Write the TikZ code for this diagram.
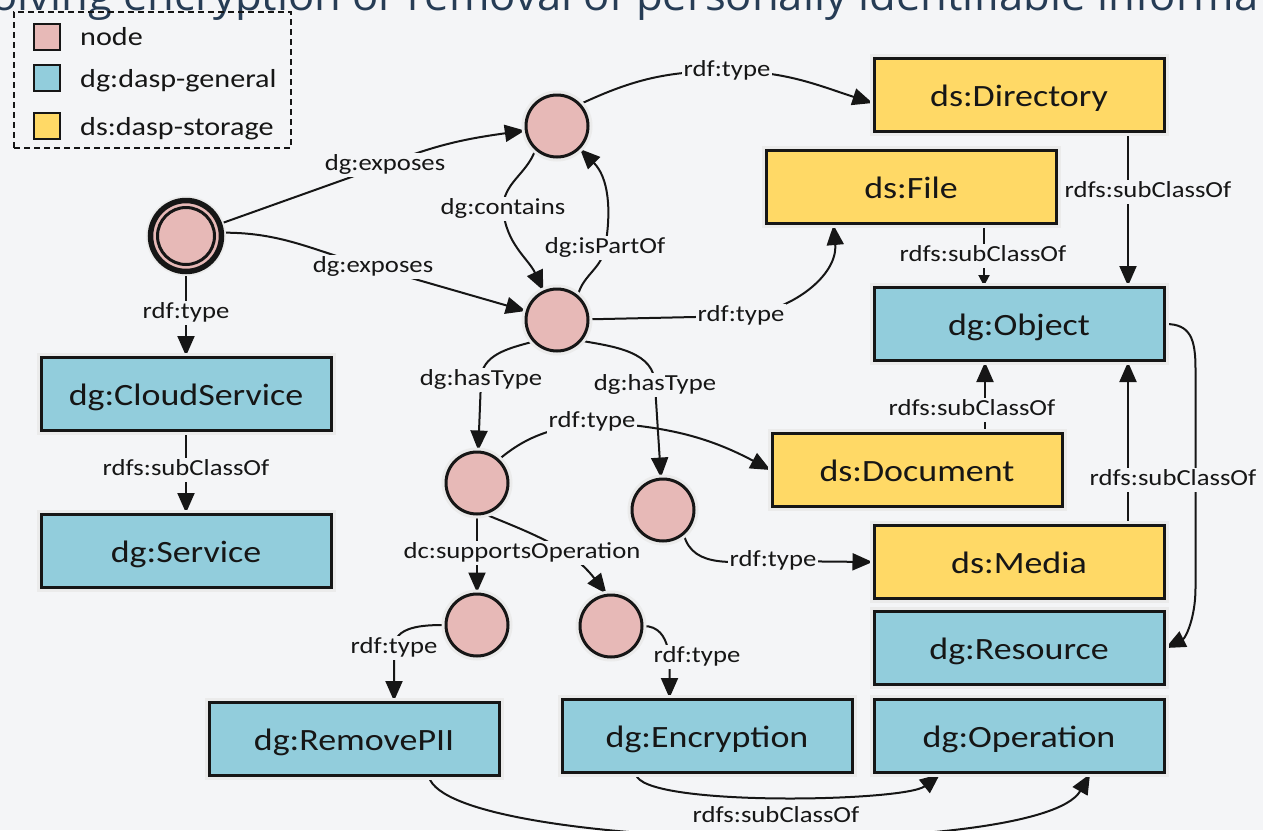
\documentclass[tikz,border=0pt]{standalone}
\usepackage{fontspec}
\setmainfont{Carlito}[FakeStretch=1.16]
\newfontfamily\titlefont{Open Sans}[FakeStretch=1.05]
\usetikzlibrary{arrows.meta}
\pgfdeclarelayer{backdrop}
\pgfdeclarelayer{wires}
\pgfsetlayers{backdrop,wires,main}
\definecolor{bg}{RGB}{244,245,247}
\definecolor{pinkfill}{RGB}{231,185,183}
\definecolor{genfill}{RGB}{146,205,220}
\definecolor{storefill}{RGB}{255,217,102}
\definecolor{titlecol}{RGB}{38,60,85}
\definecolor{ink}{RGB}{22,22,22}
\begin{document}
\begin{tikzpicture}[x=1pt,y=1pt,
  halo/.style={preaction={draw=black!8,line width=9pt}},
  classbox/.style={draw=ink, line width=3pt, minimum width=290pt, minimum height=73pt,
    inner sep=0pt, text height=22pt, text depth=0pt,
    font=\fontsize{31}{36}\selectfont, text=ink, halo},
  general/.style={classbox, fill=genfill},
  storage/.style={classbox, fill=storefill},
  blank/.style={circle, draw=ink, line width=3pt, fill=pinkfill, minimum size=62pt,
    inner sep=0pt, halo},
  lbl/.style={fill=bg, inner sep=1.5pt, text height=16pt, text depth=5pt,
    font=\fontsize{23}{26}\selectfont, text=ink},
  legsq/.style={draw=ink, line width=2.5pt, minimum size=26pt, inner sep=0pt},
  legtxt/.style={inner sep=0pt, font=\fontsize{26}{30}\selectfont, text=ink},
  wire/.style={draw=ink, line width=2pt},
  edge/.style={wire, -{Triangle[length=20pt,width=17pt]}},
  smalledge/.style={wire, -{Triangle[length=11pt,width=11pt]}},
]
\useasboundingbox (0,0) rectangle (1263,-830);

% backdrop and the clipped heading line
\begin{pgfonlayer}{backdrop}
  \fill[bg] (0,0) rectangle (1263,-830);
  \begin{scope}
    \clip (0,0) rectangle (1263,-830);
    \node[anchor=base west, inner sep=0pt, text=titlecol,
      font=\titlefont\fontsize{41.5}{48}\selectfont] (title) at (-9,-10)
      {olving encryption or removal of personally identifiable informa};
  \end{scope}
\end{pgfonlayer}

% legend
\node[draw=ink, line width=1.8pt, dash pattern=on 6pt off 4pt,
  minimum width=277pt, minimum height=136pt, inner sep=0pt] (legend) at (152.5,-80) {};
\node[legsq, fill=pinkfill] (kn) at (47,-37) {};
\node[legsq, fill=genfill] (kg) at (47,-78) {};
\node[legsq, fill=storefill] (ks) at (47,-126) {};
\node[legtxt, anchor=base west] (tn) at (80,-45) {node};
\node[legtxt, anchor=base west] (tg) at (80,-87) {dg:dasp-general};
\node[legtxt, anchor=base west] (ts) at (80,-135) {ds:dasp-storage};

% class boxes
\node[storage] (Dir)   at (1019,-95)  {ds:Directory};
\node[storage] (File)  at (911,-187)  {ds:File};
\node[general] (Obj)   at (1019,-324) {dg:Object};
\node[storage] (Doc)   at (917,-470)  {ds:Document};
\node[storage] (Media) at (1019,-562) {ds:Media};
\node[general] (Res)   at (1019,-648) {dg:Resource};
\node[general] (Op)    at (1019,-736) {dg:Operation};
\node[general] (Enc)   at (707,-736)  {dg:Encryption};
\node[general] (RPII)  at (354,-739)  {dg:RemovePII};
\node[general] (CS)    at (186,-394)  {dg:CloudService};
\node[general] (Svc)   at (186,-551)  {dg:Service};

% blank nodes
\node[blank, minimum size=71pt, line width=5.5pt] (A) at (186,-236) {};
\node[circle, draw=ink, line width=3pt, minimum size=57pt, inner sep=0pt] (Ain) at (A.center) {};
\node[blank] (B) at (557,-126) {};
\node[blank] (C) at (557,-320) {};
\node[blank] (D) at (477,-483) {};
\node[blank] (E) at (663,-510) {};
\node[blank] (F) at (477,-625) {};
\node[blank] (G) at (611,-626) {};

% edge labels
\node[lbl] (l1)  at (385,-165)  {dg:exposes};
\node[lbl] (l2)  at (373,-267)  {dg:exposes};
\node[lbl] (l3)  at (503,-209)  {dg:contains};
\node[lbl] (l4)  at (605,-248)  {dg:isPartOf};
\node[lbl] (l5)  at (727,-71)   {rdf:type};
\node[lbl] (l6)  at (741,-316)  {rdf:type};
\node[lbl] (l7)  at (481,-380)  {dg:hasType};
\node[lbl] (l8)  at (655,-385)  {dg:hasType};
\node[lbl] (l9)  at (592,-422)  {rdf:type};
\node[lbl] (l10) at (773,-561)  {rdf:type};
\node[lbl] (l11) at (522,-553)  {dc:supportsOperation};
\node[lbl] (l13) at (394,-648)  {rdf:type};
\node[lbl] (l14) at (697,-657)  {rdf:type};
\node[lbl] (l15) at (186,-313)  {rdf:type};
\node[lbl] (l16) at (186,-470)  {rdfs:subClassOf};
\node[lbl] (l17) at (1148,-192) {rdfs:subClassOf};
\node[lbl] (l18) at (983,-256)  {rdfs:subClassOf};
\node[lbl] (l19) at (972,-410)  {rdfs:subClassOf};
\node[lbl] (l20) at (1173,-480) {rdfs:subClassOf};
\node[lbl] (l21) at (776,-817)  {rdfs:subClassOf};

% connectors
\begin{pgfonlayer}{wires}
\begin{scope}
  \clip (0,0) rectangle (1263,-830);
  \draw[edge] (A) -- (l1.center) to[out=22,in=188] (B);
  \draw[edge] (A.5) to[out=0,in=165] (l2.center) -- (C);
  \draw[edge] (B.228) to[out=250,in=90] (l3.center) to[out=-85,in=115] (C);
  \draw[edge] (C.50) to[out=75,in=-100] (l4.center) to[out=80,in=-45] (B);
  \draw[edge] (B.43) to[out=25,in=180] (l5.center) to[out=0,in=162] ([yshift=-8pt]Dir.west);
  \draw[edge] (C) -- (l6.center) to[out=5,in=-85] ([xshift=69pt]File.south west);
  \draw[edge] (C.222) to[out=195,in=90] (l7.center) -- (D);
  \draw[edge] (C.-40) to[out=-10,in=90] (l8.center) -- (E);
  \draw[edge] (D.47) to[out=40,in=190] (l9.center) to[out=-3,in=152] (Doc.west);
  \draw[edge] (E.-50) to[out=-75,in=180] (l10.center) -- (Media.west);
  \draw[edge] (D) -- (F);
  \draw[edge] (D.-75) to[out=-22,in=128] (G.98);
  \draw[edge] (F.west) to[out=180,in=90] (l13.center) -- (l13.center |- RPII.north);
  \draw[edge] (G.east) to[out=0,in=90] ([xshift=109pt]Enc.north west);
  \draw[edge] (A) -- (CS);
  \draw[edge] (CS) -- (Svc);
  \draw[edge] ([xshift=109pt]Dir.south) -- ([xshift=109pt]Obj.north);
  \draw[smalledge] ([xshift=73pt]File.south) -- ([xshift=-35pt]Obj.north);
  \draw[edge] ([xshift=68pt]Doc.north) -- ([xshift=-34pt]Obj.south);
  \draw[edge] ([xshift=109pt]Media.north) -- ([xshift=109pt]Obj.south);
  \draw[edge] (Obj.east) .. controls +(25,0) and +(0,30) .. ([xshift=30pt,yshift=-45pt]Obj.east)
    -- ([xshift=30pt,yshift=60pt]Res.east) .. controls +(0,-30) and +(20,10) .. (Res.east);
  \draw[edge] ([xshift=-71pt]Enc.south) .. controls +(4,-33) and +(-35,-28) .. ([xshift=-79pt]Op.south);
  \draw[edge] ([xshift=75pt]RPII.south) .. controls +(21,-74) and +(-50,-87) .. ([xshift=71pt]Op.south);
\end{scope}
\end{pgfonlayer}
\end{tikzpicture}
\end{document}
